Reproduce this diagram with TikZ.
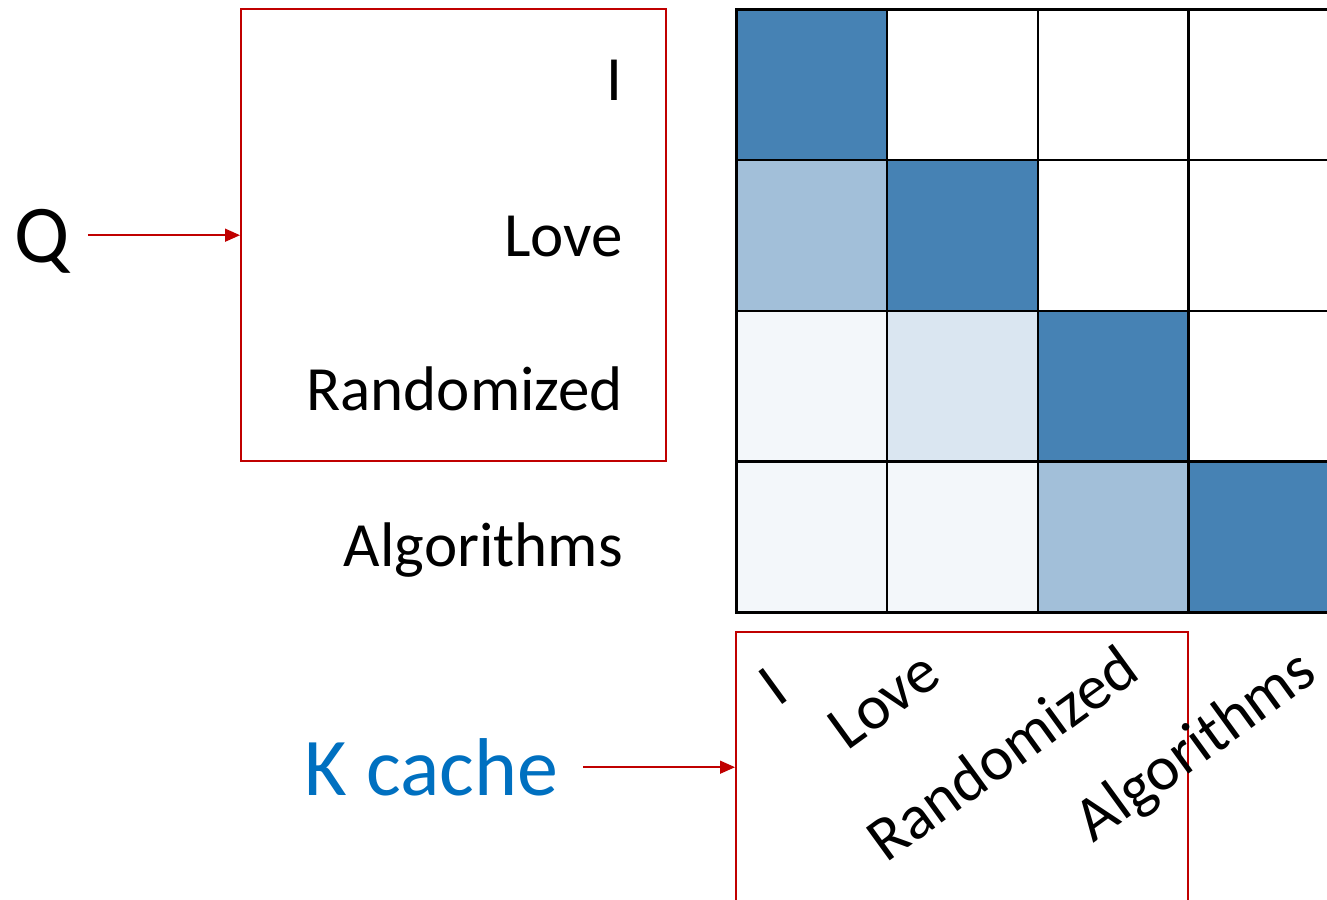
\documentclass[tikz,border=0pt]{standalone}
\usepackage{fontspec}
\setmainfont{Carlito}
\usetikzlibrary{arrows.meta}
\definecolor{attnD}{RGB}{70,130,180}
\definecolor{attnM}{RGB}{162,191,217}
\definecolor{attnL}{RGB}{218,230,241}
\definecolor{attnVL}{RGB}{243,247,250}
\definecolor{boxred}{RGB}{192,0,0}
\definecolor{kblue}{RGB}{0,112,192}
\tikzset{
  cell/.style={draw=black, line width=2.6pt, minimum size=150.8pt, inner sep=0pt, anchor=north west},
  redbox/.style={draw=boxred, line width=2.4pt, inner sep=0pt, anchor=north west},
  feed/.style={draw=boxred, line width=1.5pt, -{Triangle[length=15pt,width=13pt]}},
  rowlab/.style={font=\fontsize{63}{70}\selectfont, anchor=base east, inner sep=0pt},
  collab/.style={font=\fontsize{63}{70}\selectfont, rotate=36, inner sep=0pt},
  biglab/.style={font=\fontsize{82}{90}\selectfont, inner sep=0pt}
}
\begin{document}
\begin{tikzpicture}[x=1pt,y=-1pt]
\clip (0,0) rectangle (1327,899);
\fill[white] (0,0) rectangle (1327,899);

% attention score grid (row = query, column = key)
\foreach \r/\c/\col in {
  0/0/attnD, 0/1/white, 0/2/white, 0/3/white,
  1/0/attnM, 1/1/attnD, 1/2/white, 1/3/white,
  2/0/attnVL, 2/1/attnL, 2/2/attnD, 2/3/white,
  3/0/attnVL, 3/1/attnVL, 3/2/attnM, 3/3/attnD}
  \node[cell, fill=\col] (c-\r-\c) at ({735+150.8*\c},{8+150.8*\r}) {};

% query box and its labels
\node[redbox, minimum width=425pt, minimum height=452pt] (qbox) at (240,8) {};
\node[rowlab] (qI) at (623,100) {I};
\node[rowlab] (qLove) at (623,256) {Love};
\node[rowlab] (qRand) at (623,410) {Randomized};
\node[rowlab] (qAlg) at (623,566) {Algorithms};

% key cache box and its rotated labels
\node[redbox, minimum width=452pt, minimum height=270pt] (kbox) at (735,631) {};
\node[collab] (kI) at (773,686) {I};
\node[collab] (kLove) at (884,700) {Love};
\node[collab] (kRand) at (1002,753) {Randomized};
\node[collab] (kAlg) at (1197,748) {Algorithms};

% side labels with feeding arrows
\node[biglab, anchor=base] (Q) at (42,262) {Q};
\node[biglab, anchor=base east, text=kblue] (K) at (558,795) {K cache};
\draw[feed] ([xshift=18pt]Q.east |- qbox.west) -- (qbox.west);
\draw[feed] ([xshift=25pt]K.east |- kbox.west) -- (kbox.west);
\end{tikzpicture}
\end{document}
